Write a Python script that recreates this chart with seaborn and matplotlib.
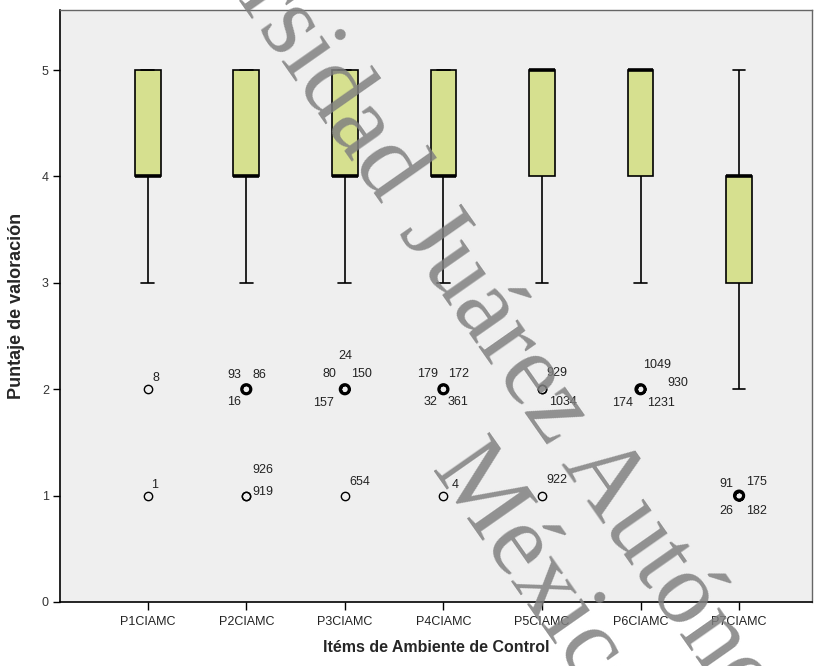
import numpy as np
import pandas as pd
import matplotlib
matplotlib.use("Agg")
import matplotlib.pyplot as plt
import seaborn as sns

# ---------------- data ----------------
items = ["P1CIAMC", "P2CIAMC", "P3CIAMC", "P4CIAMC", "P5CIAMC", "P6CIAMC", "P7CIAMC"]
scores = [1, 2, 3, 4, 5]
# estimated number of responses per score (1..5) for each item
counts_p1 = [1, 1, 110, 480, 410]
counts_p2 = [2, 3, 120, 470, 410]
counts_p3 = [1, 4, 100, 460, 440]
counts_p4 = [1, 4, 110, 450, 440]
counts_p5 = [1, 2, 60, 320, 620]
counts_p6 = [0, 4, 70, 300, 630]
counts_p7 = [4, 60, 300, 450, 190]
all_counts = [counts_p1, counts_p2, counts_p3, counts_p4, counts_p5, counts_p6, counts_p7]

# outlier case labels: (item, score, label)
case_items = ["P1CIAMC", "P1CIAMC",
              "P2CIAMC", "P2CIAMC", "P2CIAMC", "P2CIAMC", "P2CIAMC",
              "P3CIAMC", "P3CIAMC", "P3CIAMC", "P3CIAMC", "P3CIAMC",
              "P4CIAMC", "P4CIAMC", "P4CIAMC", "P4CIAMC", "P4CIAMC",
              "P5CIAMC", "P5CIAMC", "P5CIAMC",
              "P6CIAMC", "P6CIAMC", "P6CIAMC", "P6CIAMC",
              "P7CIAMC", "P7CIAMC", "P7CIAMC", "P7CIAMC"]
case_scores = [2, 1,
               2, 2, 2, 1, 1,
               2, 2, 2, 2, 1,
               2, 2, 2, 2, 1,
               2, 2, 1,
               2, 2, 2, 2,
               1, 1, 1, 1]
case_labels = ["8", "1",
               "93", "86", "16", "926", "919",
               "24", "80", "150", "157", "654",
               "179", "172", "32", "361", "4",
               "929", "1034", "922",
               "1049", "930", "174", "1231",
               "91", "175", "26", "182"]
# outliers representing several cases (drawn bold)
multi_items = ["P2CIAMC", "P3CIAMC", "P4CIAMC", "P6CIAMC", "P7CIAMC"]
multi_scores = [2, 2, 2, 2, 1]

# ---------------- layout (label offsets in pixels) ----------------
label_offsets = [(8, 11), (7, 11),
                 (-12, 14), (13, 14), (-12, -13), (17, 26), (17, 4),
                 (0, 33), (-15, 15), (17, 15), (-21, -14), (15, 14),
                 (-16, 15), (15, 15), (-13, -13), (15, -13), (12, 11),
                 (15, 16), (21, -13), (15, 16),
                 (17, 24), (37, 6), (-18, -14), (20, -14),
                 (-13, 12), (17, 14), (-13, -15), (17, -15)]

rows_item, rows_score = [], []
for it, cnt in zip(items, all_counts):
    vals = np.repeat(scores, cnt)
    rows_item += [it] * len(vals)
    rows_score += list(vals)
df = pd.DataFrame({"item": rows_item, "score": rows_score})

sns.set_style("white")
plt.rcParams["font.family"] = ["Liberation Sans Narrow", "Liberation Sans", "DejaVu Sans"]

fig = plt.figure(figsize=(8.21, 6.66), dpi=100)
fig.patch.set_facecolor("white")
ax = fig.add_axes([60 / 821, 1 - 602 / 666, (812 - 60) / 821, (602 - 10) / 666])
ax.set_facecolor("#efefef")

sns.boxplot(data=df, x="item", y="score", order=items, ax=ax,
            width=0.26, color="#d6e08f", saturation=1, linecolor="black",
            linewidth=1.2, whis=1.5, fliersize=6,
            flierprops=dict(marker="o", markerfacecolor="none",
                            markeredgecolor="black", markeredgewidth=1.0),
            medianprops=dict(linewidth=2.6, color="black"))

mdf = pd.DataFrame({"item": multi_items, "score": multi_scores})
sns.stripplot(data=mdf, x="item", y="score", order=items, ax=ax, jitter=False,
              marker="o", s=6.5, facecolors="none", edgecolor="black",
              linewidth=2.3, color="none", zorder=5)

pos = {it: i for i, it in enumerate(items)}
for it, sc, lab, (dx, dy) in zip(case_items, case_scores, case_labels, label_offsets):
    ax.annotate(lab, xy=(pos[it], sc), xytext=(dx, dy), textcoords="offset pixels",
                ha="center", va="center", fontsize=9, color="#222222")

ax.set_xlim(-0.89, 6.74)
ax.set_ylim(0, 5.565)
ax.set_yticks([0, 1, 2, 3, 4, 5])
ax.set_yticklabels(["0", "1", "2", "3", "4", "5"])

for s in ["left", "bottom"]:
    ax.spines[s].set_color("black")
    ax.spines[s].set_linewidth(1.2)
for s in ["top", "right"]:
    ax.spines[s].set_color("#666666")
    ax.spines[s].set_linewidth(1.0)

ax.tick_params(axis="y", direction="out", length=5, width=1, color="black",
               labelsize=9, labelcolor="#333333", pad=3, left=True)
ax.tick_params(axis="x", direction="out", length=6, width=1, color="black",
               labelsize=9, labelcolor="#222222", pad=4, bottom=True)

ax.set_xlabel("Itéms de Ambiente de Control", fontsize=11.5, fontweight="bold",
              family=["Liberation Sans", "DejaVu Sans"], labelpad=9)
ax.set_ylabel("Puntaje de valoración", fontsize=13, fontweight="bold",
              family=["Liberation Sans", "DejaVu Sans"], labelpad=12)

# watermark
ang = -55
d = np.array([np.cos(np.radians(ang)), -np.sin(np.radians(ang))])  # screen coords (y down)
def fx(px):
    return px / 821
def fy(py):
    return 1 - py / 666
O = np.array([398.0, 232.0])
wm_kw = dict(rotation=ang, rotation_mode="anchor", va="baseline", fontsize=74,
             color="#808080", alpha=0.85, family=["Liberation Serif", "DejaVu Serif"],
             zorder=10)
fig.text(fx(O[0]), fy(O[1]), "Juárez Autónoma de Tabasco", ha="left", **wm_kw)
sp = 30
O1 = O - sp * d
fig.text(fx(O1[0]), fy(O1[1]), "Universidad", ha="right", **wm_kw)
O2 = np.array([430.0, 470.0])
fig.text(fx(O2[0]), fy(O2[1]), "México", ha="left", **wm_kw)

fig.savefig("out.png", dpi=100, facecolor="white")
